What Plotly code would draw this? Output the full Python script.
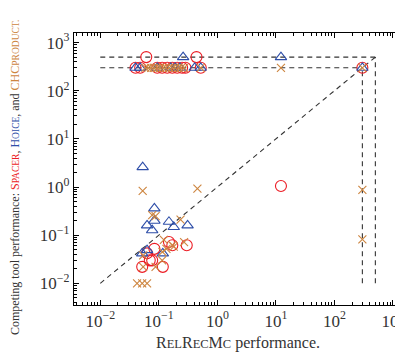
import plotly.graph_objects as go

# ---- data ----
spacer_x = [0.040, 0.048, 0.094, 0.114, 0.139, 0.17, 0.206, 0.25, 0.285, 0.52, 300,
            0.061, 0.44,
            12.2, 0.149, 0.17, 0.30, 0.084, 0.063, 0.077, 0.052, 0.117, 0.07]
spacer_y = [300, 300, 300, 300, 300, 300, 300, 300, 300, 300, 300,
            500, 500,
            1.05, 0.072, 0.062, 0.062, 0.052, 0.042, 0.030, 0.022, 0.022, 0.030]

hoice_x = [0.040, 0.048, 0.094, 0.16, 0.19, 0.23, 0.41, 0.52, 300,
           0.26, 12.2,
           0.053, 0.084, 0.063, 0.077, 0.084, 0.149, 0.18, 0.31, 0.052, 0.063, 0.117]
hoice_y = [300, 300, 300, 300, 300, 300, 300, 300, 300,
           500, 500,
           2.6, 0.36, 0.16, 0.127, 0.20, 0.19, 0.148, 0.16, 0.042, 0.049, 0.042]

chc_x = [0.059, 0.066, 0.074, 0.083, 0.094, 0.105, 0.118, 0.133, 0.15, 0.17, 0.19,
         0.215, 0.24, 0.27, 0.52, 12.2, 300,
         0.053, 0.456, 0.077, 0.088, 0.235, 0.122, 0.27, 0.135, 0.17, 0.18,
         0.054, 0.054, 0.088, 0.114, 0.0425, 0.052, 0.063, 300, 300, 0.115]
chc_y = [300, 300, 300, 300, 300, 300, 300, 300, 300, 300, 300,
         300, 300, 300, 300, 300, 300,
         0.83, 0.93, 0.26, 0.25, 0.21, 0.08, 0.072, 0.052, 0.062, 0.058,
         0.038, 0.022, 0.022, 0.030, 0.010, 0.010, 0.010, 0.87, 0.082, 0.045]

# reference values for guide lines
LOWER = 0.01
TIMEOUT = 300
MEMOUT = 500

tick_vals = [0.01, 0.1, 1, 10, 100, 1000]
tick_text = ["10<sup>−2</sup>", "10<sup>−1</sup>", "10<sup>0</sup>",
             "10<sup>1</sup>", "10<sup>2</sup>", "10<sup>3</sup>"]
minor_vals = [k * 10.0 ** e for e in range(-3, 4) for k in range(2, 10)]

RED = "#ec1c24"
BLUE = "#2e4ea8"
ORANGE = "#cd853f"
FONT = "Liberation Serif"

fig = go.Figure()

dash_line = dict(color="#333333", width=1.1, dash="5px,4px")
guides = [
    ([LOWER, MEMOUT], [LOWER, MEMOUT]),
    ([LOWER, MEMOUT], [MEMOUT, MEMOUT]),
    ([LOWER, TIMEOUT], [TIMEOUT, TIMEOUT]),
    ([TIMEOUT, TIMEOUT], [LOWER, TIMEOUT]),
    ([MEMOUT, MEMOUT], [LOWER, MEMOUT]),
]
for gx, gy in guides:
    fig.add_trace(go.Scatter(x=gx, y=gy, mode="lines", line=dash_line,
                             hoverinfo="skip", showlegend=False))

fig.add_trace(go.Scatter(x=spacer_x, y=spacer_y, mode="markers", name="Spacer",
                         marker=dict(symbol="circle-open", size=11,
                                     color=RED, line=dict(width=1.1, color=RED))))
fig.add_trace(go.Scatter(x=hoice_x, y=hoice_y, mode="markers", name="Hoice",
                         marker=dict(symbol="triangle-up-open", size=10,
                                     color=BLUE, line=dict(width=1.1, color=BLUE))))
fig.add_trace(go.Scatter(x=chc_x, y=chc_y, mode="markers", name="CHCproduct",
                         marker=dict(symbol="x-thin-open", size=8,
                                     color=ORANGE, line=dict(width=1.1, color=ORANGE))))

axis_common = dict(
    type="log", tickmode="array", tickvals=tick_vals, ticktext=tick_text,
    ticks="inside", ticklen=5, tickwidth=1, tickcolor="black",
    showline=True, linecolor="black", linewidth=1.2, mirror="allticks",
    showgrid=False, zeroline=False, automargin=False,
    ticklabeloverflow="allow",
    tickfont=dict(family=FONT, size=17, color="#333"),
    minor=dict(tickmode="array", tickvals=minor_vals, ticks="inside",
               ticklen=3, tickwidth=0.8, tickcolor="black", showgrid=False),
)

sc = "font-size:9.5px"
ytitle = ("Competing tool performance: "
          f"<span style='color:{RED}'>S</span><span style='color:{RED};{sc}'>PACER</span>, "
          f"<span style='color:{BLUE}'>H</span><span style='color:{BLUE};{sc}'>OICE</span>, and "
          f"<span style='color:{ORANGE}'>CHC</span><span style='color:{ORANGE};{sc}'>PRODUCT.</span>")
xtitle = ("R<span style='font-size:12.5px'>EL</span>R<span style='font-size:12.5px'>EC</span>"
          "M<span style='font-size:12.5px'>C</span> performance.")

# page body has an 8px default margin, so the figure is drawn 8px in and 8px down
fig.update_layout(
    width=395, height=348,
    margin=dict(l=66, r=2, t=25, b=51),
    paper_bgcolor="white", plot_bgcolor="white",
    showlegend=False,
    font=dict(family=FONT, color="#333"),
    xaxis=dict(axis_common, range=[-2.449, 3.137]),
    yaxis=dict(axis_common, range=[-2.45, 3.20]),
    annotations=[
        dict(text=ytitle, xref="paper", yref="paper", x=-0.181, y=0.47,
             xanchor="center", yanchor="middle", textangle=-90, showarrow=False,
             font=dict(family=FONT, size=12, color="#333")),
        dict(text=xtitle, xref="paper", yref="paper", x=0.5015, y=-0.14,
             xanchor="center", yanchor="middle", showarrow=False,
             font=dict(family=FONT, size=16, color="#333")),
    ],
)

fig.write_html("out.html")
